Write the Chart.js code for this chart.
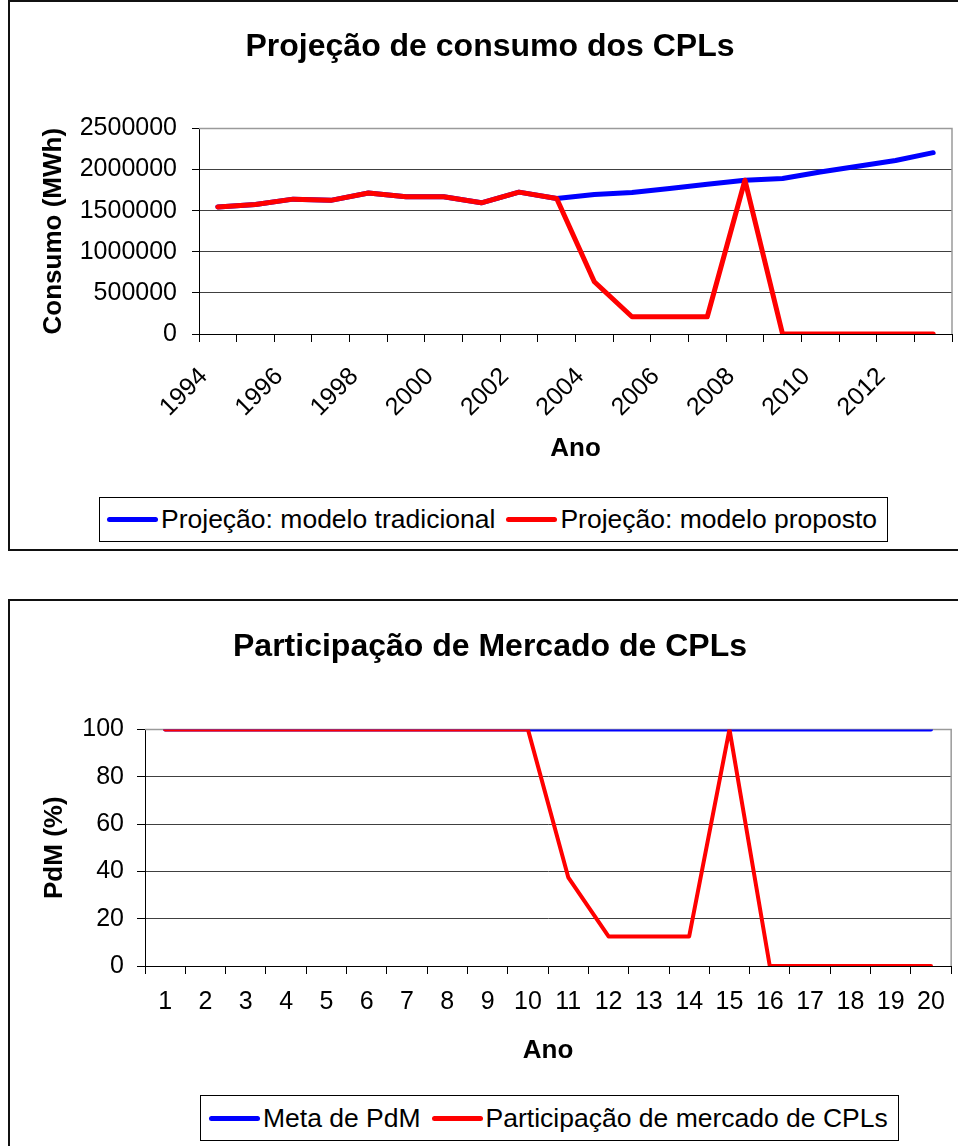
<!DOCTYPE html>
<html lang="pt">
<head>
<meta charset="utf-8">
<title>Projeção de consumo dos CPLs</title>
<script src="https://cdn.jsdelivr.net/npm/chart.js@4.4.1/dist/chart.umd.min.js"></script>
<style>
  html, body { margin: 0; padding: 0; background: #fff; overflow: hidden; }
  body { width: 958px; height: 1146px; position: relative; font-family: 'Liberation Sans', Arial, sans-serif; }
  .moldura { position: absolute; box-sizing: border-box; border: 2px solid #111; background: #fff; }
  canvas { position: absolute; left: 0; }
  .legenda {
    position: absolute; display: flex; align-items: center; box-sizing: border-box;
    border: 1px solid #000; background: #fff; font-size: 26.5px; white-space: nowrap;
  }
  .item { display: flex; align-items: center; margin-right: 11px; }
  .item:last-child { margin-right: 0; }
  .amostra { display: inline-block; width: 51px; height: 5px; border-radius: 3px; margin-right: 3px; }
</style>
</head>
<body>
<div class="moldura" style="left:8px; top:0; width:970px; height:551px;"></div>
<div class="moldura" style="left:8px; top:599px; width:970px; height:600px;"></div>
<canvas id="grafico1" width="958" height="550" style="top:0"></canvas>
<canvas id="grafico2" width="958" height="546" style="top:600px"></canvas>
<div class="legenda" id="legenda1" style="left:99px; top:497px; height:45px; padding:0 10px 0 7px;"></div>
<div class="legenda" id="legenda2" style="left:200px; top:1095px; height:46px; padding:0 10px 0 8px;"></div>
<script>
// dados
const anos = ['1994', '1995', '1996', '1997', '1998', '1999', '2000', '2001', '2002', '2003',
  '2004', '2005', '2006', '2007', '2008', '2009', '2010', '2011', '2012', '2013'];
const consumoTradicional = [1545000, 1575000, 1640000, 1625000, 1715000, 1668000, 1668000, 1595000, 1725000, 1648000,
  1695000, 1720000, 1768000, 1820000, 1870000, 1890000, 1970000, 2040000, 2110000, 2205000];
const consumoProposto = [1545000, 1575000, 1640000, 1625000, 1715000, 1668000, 1668000, 1595000, 1725000, 1648000,
  635000, 210000, 210000, 210000, 1870000, 0, 0, 0, 0, 0];

const periodos = ['1', '2', '3', '4', '5', '6', '7', '8', '9', '10',
  '11', '12', '13', '14', '15', '16', '17', '18', '19', '20'];
const metaPdM = [100, 100, 100, 100, 100, 100, 100, 100, 100, 100,
  100, 100, 100, 100, 100, 100, 100, 100, 100, 100];
const participacaoCPL = [100, 100, 100, 100, 100, 100, 100, 100, 100, 100,
  37.5, 12.5, 12.5, 12.5, 100, 0, 0, 0, 0, 0];

const AZUL = '#0000ff';
const VERMELHO = '#ff0000';
const GRADE = '#404040';

Chart.defaults.font.family = "'Liberation Sans', Arial, sans-serif";
Chart.defaults.color = '#000';

// contorno cinza da área de plotagem (topo e lado direito)
const molduraPlot = {
  id: 'molduraPlot',
  beforeDatasetsDraw(chart) {
    const { ctx, chartArea: a } = chart;
    ctx.save();
    ctx.strokeStyle = '#9a9a9a';
    ctx.lineWidth = 1.5;
    ctx.beginPath();
    ctx.moveTo(a.left, a.top);
    ctx.lineTo(a.right, a.top);
    ctx.lineTo(a.right, a.bottom);
    ctx.stroke();
    ctx.restore();
  }
};

// o gráfico original é mais largo que a imagem: centraliza o título nessa largura
const tituloLargo = {
  id: 'tituloLargo',
  afterLayout(chart) {
    const t = chart.titleBlock;
    if (!t) return;
    t.left = 10;
    t.right = 970;
    t.width = 960;
  }
};

function montarLegenda(chart, idCaixa) {
  const caixa = document.getElementById(idCaixa);
  chart.data.datasets.forEach(ds => {
    const item = document.createElement('span');
    item.className = 'item';
    const amostra = document.createElement('span');
    amostra.className = 'amostra';
    amostra.style.background = ds.borderColor;
    item.appendChild(amostra);
    item.appendChild(document.createTextNode(ds.label));
    caixa.appendChild(item);
  });
}

const grafico1 = new Chart(document.getElementById('grafico1'), {
  type: 'line',
  data: {
    labels: anos,
    datasets: [
      { label: 'Projeção: modelo tradicional', data: consumoTradicional, borderColor: AZUL, order: 1 },
      { label: 'Projeção: modelo proposto', data: consumoProposto, borderColor: VERMELHO, order: 0 }
    ]
  },
  options: {
    responsive: false,
    animation: false,
    layout: { padding: { left: 10, right: 6, top: 0, bottom: 86 } },
    elements: {
      line: { borderWidth: 5, tension: 0, borderJoinStyle: 'round', borderCapStyle: 'round' },
      point: { radius: 0, hoverRadius: 0 }
    },
    plugins: {
      legend: { display: false },
      tooltip: { enabled: false },
      title: {
        display: true,
        text: 'Projeção de consumo dos CPLs',
        font: { size: 32, weight: 'bold' },
        padding: { top: 28, bottom: 62 }
      }
    },
    scales: {
      x: {
        offset: true,
        grid: { offset: true, drawOnChartArea: false, tickLength: 8, color: '#000' },
        border: { color: '#000' },
        ticks: {
          autoSkip: false, minRotation: 45, maxRotation: 45, padding: 20, labelOffset: -14,
          font: { size: 25 },
          callback: (v, i) => (i % 2 === 0 ? anos[i] : '')
        },
        title: { display: true, text: 'Ano', font: { size: 26, weight: 'bold' }, padding: { top: 0, bottom: 0 } },
        afterFit: s => {
          s.height = 130;
          // os rótulos inclinados cabem no espaço: sem recuo extra à direita
          s.paddingLeft = 0;
          s.paddingRight = 0;
        }
      },
      y: {
        min: 0,
        max: 2500000,
        ticks: { stepSize: 500000, padding: 15, font: { size: 25 }, callback: v => String(v) },
        grid: { color: GRADE, tickColor: '#000', tickLength: 7 },
        border: { color: '#000' },
        title: { display: true, text: 'Consumo (MWh)', font: { size: 26, weight: 'bold' }, padding: { top: 28, bottom: 0 } },
        afterFit: s => { s.width = 189; }
      }
    }
  },
  plugins: [molduraPlot, tituloLargo]
});

const grafico2 = new Chart(document.getElementById('grafico2'), {
  type: 'line',
  data: {
    labels: periodos,
    datasets: [
      { label: 'Meta de PdM', data: metaPdM, borderColor: AZUL, order: 1 },
      { label: 'Participação de mercado de CPLs', data: participacaoCPL, borderColor: VERMELHO, order: 0 }
    ]
  },
  options: {
    responsive: false,
    animation: false,
    layout: { padding: { left: 10, right: 3, top: 0, bottom: 80 } },
    elements: {
      line: { borderWidth: 4, tension: 0, borderJoinStyle: 'round', borderCapStyle: 'round' },
      point: { radius: 0, hoverRadius: 0 }
    },
    plugins: {
      legend: { display: false },
      tooltip: { enabled: false },
      title: {
        display: true,
        text: 'Participação de Mercado de CPLs',
        font: { size: 32, weight: 'bold' },
        padding: { top: 28, bottom: 63 }
      }
    },
    scales: {
      x: {
        offset: true,
        grid: { offset: true, drawOnChartArea: false, tickLength: 8, color: '#000' },
        border: { color: '#000' },
        ticks: { autoSkip: false, maxRotation: 0, padding: 13, font: { size: 25 } },
        title: { display: true, text: 'Ano', font: { size: 26, weight: 'bold' }, padding: { top: 0, bottom: 0 } },
        afterFit: s => { s.height = 100; }
      },
      y: {
        min: 0,
        max: 100,
        ticks: { stepSize: 20, padding: 13, font: { size: 25 } },
        grid: { color: GRADE, tickColor: '#000', tickLength: 8 },
        border: { color: '#000' },
        title: { display: true, text: 'PdM (%)', font: { size: 26, weight: 'bold' }, padding: { top: 29, bottom: 0 } },
        afterFit: s => { s.width = 135; }
      }
    }
  },
  plugins: [molduraPlot, tituloLargo]
});

montarLegenda(grafico1, 'legenda1');
montarLegenda(grafico2, 'legenda2');
</script>
</body>
</html>
